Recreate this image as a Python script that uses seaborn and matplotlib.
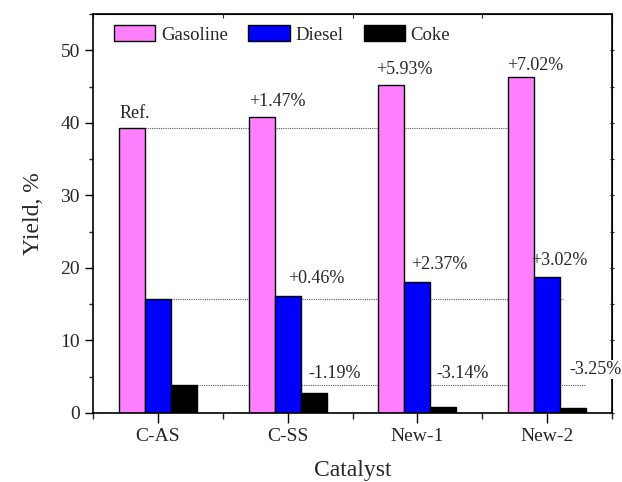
import pandas as pd
import seaborn as sns
import matplotlib.pyplot as plt
from matplotlib.ticker import MultipleLocator, FixedLocator

sns.set_style("ticks")
plt.rcParams['font.family'] = ['Liberation Serif', 'DejaVu Serif']

# data
catalysts = ['C-AS', 'C-SS', 'New-1', 'New-2']
products = ['Gasoline', 'Diesel', 'Coke']
gasoline = [39.30, 40.77, 45.23, 46.32]
diesel = [15.70, 16.16, 18.07, 18.72]
coke = [3.92, 2.73, 0.78, 0.67]
colors = ['#ff80ff', '#0000ff', '#000000']

# change labels relative to C-AS
labels = ['Ref.', '+1.47%', '+5.93%', '+7.02%',
          '+0.46%', '+2.37%', '+3.02%',
          '-1.19%', '-3.14%', '-3.25%']
label_xy = [(-0.18, 41.3), (0.92, 43.0), (1.90, 47.3), (2.91, 47.9),
            (1.22, 18.6), (2.17, 20.4), (3.09, 21.0),
            (1.36, 5.5), (2.35, 5.5), (3.37, 6.0)]

df = pd.DataFrame({'Catalyst': catalysts * 3,
                   'Product': sum([[p] * 4 for p in products], []),
                   'Yield': gasoline + diesel + coke})

fig = plt.figure(figsize=(6.22, 4.82), dpi=100)
ax = fig.add_axes([0.1495, 0.1432, 0.8345, 0.8278])

sns.barplot(data=df, x='Catalyst', y='Yield', hue='Product', order=catalysts,
            hue_order=products, palette=colors, width=0.6, edgecolor='black',
            linewidth=1, saturation=1, ax=ax, zorder=2)

# dotted reference lines from the C-AS bars
bw = 0.2
for i, vals in enumerate([gasoline, diesel, coke]):
    off = (i - 1) * bw
    ax.hlines(vals[0], off + bw / 2, 3 + off + bw / 2 + (0.02 if i == 1 else 0),
              colors='0.35', linestyles=(0, (1, 1)), linewidth=0.8, zorder=1)

for t, (x, y) in zip(labels, label_xy):
    ax.text(x, y, t, ha='center', va='center', fontsize=13, zorder=5,
            bbox=dict(facecolor='white', edgecolor='none', pad=0.5) if t == '-3.25%' else None)

ax.set_xlim(-0.5, 3.5)
ax.set_ylim(0, 55)
ax.yaxis.set_major_locator(FixedLocator([0, 10, 20, 30, 40, 50]))
ax.yaxis.set_minor_locator(MultipleLocator(5))
ax.xaxis.set_minor_locator(FixedLocator([-0.5, 0.5, 1.5, 2.5, 3.5]))
ax.tick_params(axis='both', which='major', direction='out', labelsize=14, width=1, color='black')
ax.tick_params(axis='x', which='major', length=7)
ax.tick_params(axis='x', which='minor', length=4, direction='out', width=1)
ax.tick_params(axis='y', which='major', length=6)
ax.tick_params(axis='y', which='minor', length=3, direction='out', width=1)

top = ax.secondary_xaxis('top')
top.set_xticks([-0.5, 0.5, 1.5, 2.5, 3.5])
top.tick_params(direction='in', length=3, labeltop=False)
right = ax.secondary_yaxis('right')
right.set_yticks(list(range(0, 55, 5)))
right.tick_params(direction='inout', length=3, labelright=False)

for s in ax.spines.values():
    s.set_linewidth(1.2)
    s.set_color('black')

ax.set_xlabel('Catalyst', fontsize=17, labelpad=11)
ax.set_ylabel('Yield, %', fontsize=17, labelpad=12)

ax.legend(loc='upper left', bbox_to_anchor=(0.026, 0.99), ncol=3, frameon=False,
          fontsize=13.5, handlelength=2.2, handleheight=0.9, handletextpad=0.3,
          columnspacing=1.1, borderaxespad=0)

fig.savefig('out.png', dpi=100)
